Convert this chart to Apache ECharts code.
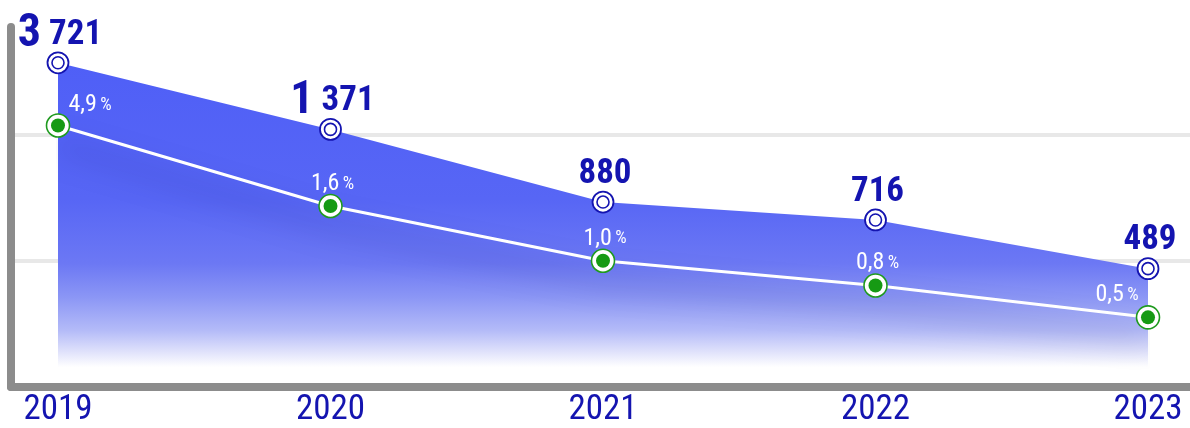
<!DOCTYPE html>
<html>
<head>
<meta charset="utf-8">
<script src="https://cdn.jsdelivr.net/npm/echarts@6/dist/echarts.min.js"></script>
<style>
  html, body { margin: 0; padding: 0; background: #fff; }
  #chart { width: 1190px; height: 428px; }
</style>
</head>
<body>
<div id="chart"></div>
<script>
// data
const years = ['2019', '2020', '2021', '2022', '2023']
const cases = [3721, 1371, 880, 716, 489]
const shares = [4.9, 1.6, 1.0, 0.8, 0.5]
// the drawing is schematic: heights on a hidden 0..95 scale
const caseLevels = [85, 66.4, 46.1, 41.1, 27.5]
const shareLevels = [67.5, 45, 29.7, 22.8, 13.9]

const FONT = '"Roboto Condensed", "Open Sans Condensed", "Liberation Sans Narrow", "DejaVu Sans Condensed", Roboto, sans-serif'
const BLUE = '#1414b0'
const GRAY = '#8c8c8c'

const svgIcon = (body, size) =>
  'image://data:image/svg+xml;charset=utf-8,' + encodeURIComponent(
    `<svg xmlns="http://www.w3.org/2000/svg" width="${size}" height="${size}" viewBox="0 0 ${size} ${size}">${body}</svg>`)

const ringIcon = svgIcon(
  `<circle cx="12" cy="12" r="10.5" fill="#fff" stroke="${BLUE}" stroke-width="1.8"/>` +
  `<circle cx="12" cy="12" r="6" fill="#fff" stroke="${BLUE}" stroke-width="1.6"/>`, 24)
const dotIcon = svgIcon(
  `<circle cx="13" cy="13" r="11.5" fill="#fff" stroke="#1f9a1f" stroke-width="1.6"/>` +
  `<circle cx="13" cy="13" r="7" fill="#169a14"/>`, 26)

const chart = echarts.init(document.getElementById('chart'))

const option = {
  animation: false,
  grid: [
    { left: 11, right: 0, top: 27, bottom: 41 },
    { left: 58, right: 42, top: 27, bottom: 41 }
  ],
  xAxis: [
    {
      gridIndex: 0, type: 'value', min: 0, max: 1,
      axisLine: { show: true, lineStyle: { color: GRAY, width: 8, cap: 'round' } },
      axisTick: { show: false }, axisLabel: { show: false }, splitLine: { show: false }
    },
    {
      gridIndex: 1, type: 'category', data: years, boundaryGap: false,
      axisLine: { show: false }, axisTick: { show: false },
      axisLabel: { color: BLUE, fontSize: 35, fontFamily: FONT, margin: 8 }
    }
  ],
  yAxis: [
    {
      gridIndex: 0, type: 'value', min: 0, max: 2.857, interval: 1,
      axisLine: { show: true, lineStyle: { color: GRAY, width: 8, cap: 'round' } },
      axisTick: { show: false }, axisLabel: { show: false },
      splitLine: { show: true, lineStyle: { color: ['transparent', '#e8e8e8', '#e8e8e8', 'transparent'], width: 4 } }
    },
    {
      gridIndex: 1, type: 'value', min: -5, max: 95, show: false
    }
  ],
  series: [
    {
      name: 'cases',
      type: 'line',
      xAxisIndex: 1, yAxisIndex: 1,
      data: caseLevels,
      z: 3,
      symbol: ringIcon,
      symbolSize: 24,
      lineStyle: { width: 0 },
      areaStyle: {
        color: new echarts.graphic.LinearGradient(0, 0, 0, 1, [
          { offset: 0, color: '#4f5ff7' },
          { offset: 0.45, color: '#5766f5' },
          { offset: 0.66, color: '#6c78f4' },
          { offset: 0.77, color: '#8b96f5' },
          { offset: 0.88, color: '#b4bbf8' },
          { offset: 0.95, color: '#e0e2fb' },
          { offset: 1, color: '#ffffff' }
        ]),
        opacity: 1
      },
      label: {
        show: true,
        position: 'top',
        distance: 0,
        offset: [2, 7],
        formatter: p => {
          const v = cases[p.dataIndex]
          const th = Math.floor(v / 1000)
          if (!th) return `{num|${v}}`
          return `{big|${th}}{num| ${String(v % 1000).padStart(3, '0')}}`
        },
        rich: {
          big: { fontSize: 46, fontWeight: 'bold', color: BLUE, fontFamily: FONT, lineHeight: 46 },
          num: { fontSize: 35, fontWeight: 'bold', color: BLUE, fontFamily: FONT, lineHeight: 46 }
        }
      }
    },
    {
      name: 'share',
      type: 'line',
      xAxisIndex: 1, yAxisIndex: 1,
      z: 4,
      data: shareLevels.map((v, i) => {
        const item = { value: v }
        if (i === 0) item.label = { offset: [32, 5] }
        if (i === shareLevels.length - 1) item.label = { offset: [-31, 3] }
        return item
      }),
      symbol: dotIcon,
      symbolSize: 26,
      lineStyle: {
        color: '#ffffff', width: 3,
        shadowColor: 'rgba(20,20,90,0.5)', shadowBlur: 28, shadowOffsetY: 20
      },
      label: {
        show: true,
        position: 'top',
        distance: 0,
        offset: [2, 3],
        formatter: p => `{v|${shares[p.dataIndex].toFixed(1).replace('.', ',')}} {pc|%}`,
        rich: {
          v: { fontSize: 24, color: '#ffffff', fontFamily: FONT, lineHeight: 24 },
          pc: { fontSize: 18, color: '#ffffff', fontFamily: FONT, lineHeight: 24 }
        }
      }
    }
  ]
}

chart.setOption(option)
</script>
</body>
</html>
